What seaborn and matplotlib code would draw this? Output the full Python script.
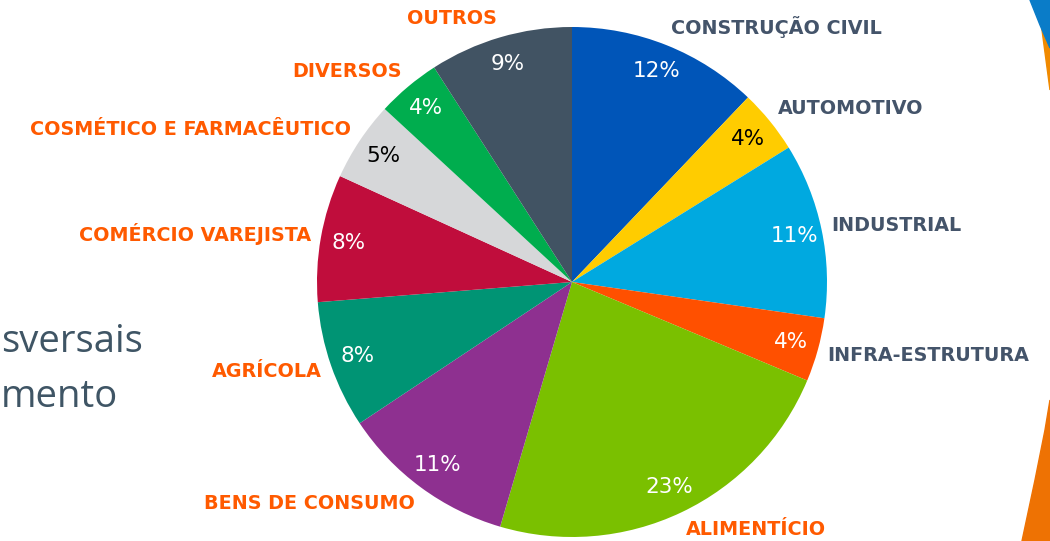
import numpy as np
import seaborn as sns
import matplotlib.pyplot as plt
from matplotlib.patches import Polygon

# setores (sentido horário a partir do topo)
setores = ["CONSTRUÇÃO CIVIL", "AUTOMOTIVO", "INDUSTRIAL", "INFRA-ESTRUTURA",
           "ALIMENTÍCIO", "BENS DE CONSUMO", "AGRÍCOLA", "COMÉRCIO VAREJISTA",
           "COSMÉTICO E FARMACÊUTICO", "DIVERSOS", "OUTROS"]
percentuais = [12, 4, 11, 4, 23, 11, 8, 8, 5, 4, 9]
cores = ["#0055B8", "#FFCC00", "#00A9E0", "#FF5000", "#7AC000", "#8E3090",
         "#009474", "#C00D3C", "#D6D7D9", "#00AD4E", "#415363"]
cor_rotulo = ["#44546A"] * 4 + ["#FF5A00"] * 7
cor_pct = ["white", "black", "white", "white", "white", "white",
           "white", "white", "black", "white", "white"]

sns.set_theme(style="white")
plt.rcParams['font.family'] = ['DejaVu Sans']

fig = plt.figure(figsize=(10.5, 5.41), dpi=100)
W, H = 1050, 541
ax = fig.add_axes([316 / W, 4 / H, 512 / W, 510 / H])

palette = sns.color_palette(cores)
wedges, labels, pcts = ax.pie(
    percentuais, labels=setores, colors=palette, startangle=90,
    counterclock=False, autopct=lambda p: f"{p:.0f}%", pctdistance=0.89,
    labeldistance=1.04, wedgeprops=dict(linewidth=0),
    textprops=dict(fontsize=11))

for t, c in zip(labels, cor_rotulo):
    t.set_color(c)
    t.set_fontweight("bold")
    t.set_fontsize(13.8)
    x, y = t.get_position()
    t.set_position((x, y * 1.035))
for t, c, v in zip(pcts, cor_pct, percentuais):
    t.set_color(c)
    t.set_fontsize(15.5)
    t.set_text(f"{v}%")

ax.set_xlim(-1, 1)
ax.set_ylim(-1, 1)
ax.set_aspect("equal")

# texto cortado à esquerda
fig.text(1 / W, 1 - 352 / H, "sversais", fontsize=27.5, color="#3F5565",
         family=["Open Sans", "DejaVu Sans"], va="baseline")
fig.text(1 / W, 1 - 407 / H, "mento", fontsize=27.5, color="#3F5565",
         family=["Open Sans", "DejaVu Sans"], va="baseline")

# formas decorativas na borda direita
def px(pts):
    return [(x / W, 1 - y / H) for x, y in pts]

fig.patches.append(Polygon(px([(1038, 0), (1050, 0), (1050, 90), (1046, 60), (1042, 30)]),
                           closed=True, color="#F08A00", transform=fig.transFigure))
fig.patches.append(Polygon(px([(1030, 0), (1050, 0), (1050, 48), (1040, 25)]),
                           closed=True, color="#0A7CC8", transform=fig.transFigure))
fig.patches.append(Polygon(px([(1050, 400), (1050, 541), (1022, 541), (1035, 480), (1045, 430)]),
                           closed=True, color="#EE7203", transform=fig.transFigure))

fig.savefig("out.png", dpi=100, facecolor="white")
